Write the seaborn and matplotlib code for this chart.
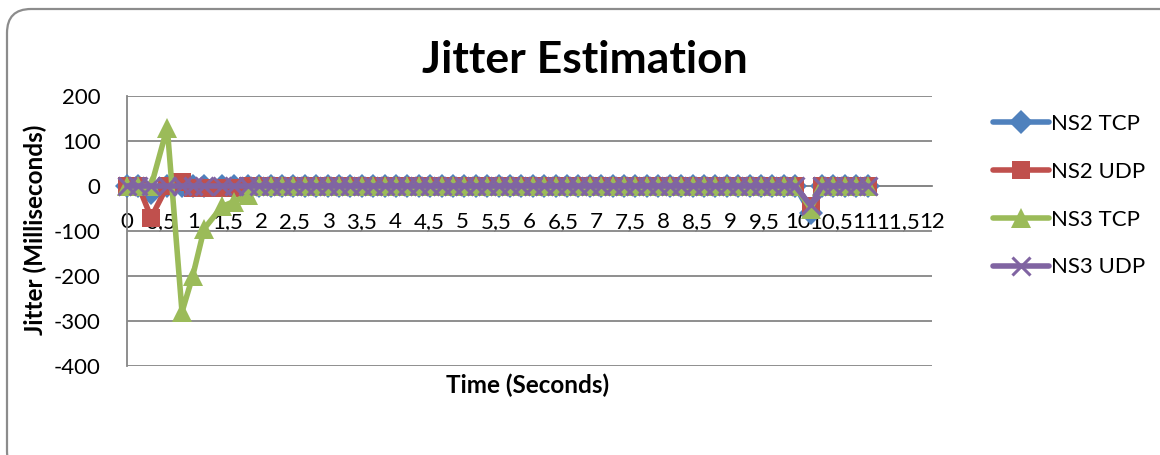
import numpy as np
import pandas as pd
import matplotlib
matplotlib.use("Agg")
import matplotlib.pyplot as plt
from matplotlib.patches import FancyBboxPatch
import seaborn as sns

# Sample times (seconds)
time_s = [0.00, 0.17, 0.36, 0.60, 0.82, 0.98, 1.15, 1.42, 1.59, 1.80,
          1.97, 2.14, 2.31, 2.48, 2.65, 2.82, 2.99, 3.16, 3.33, 3.50,
          3.67, 3.84, 4.01, 4.18, 4.35, 4.52, 4.69, 4.86, 5.03, 5.20,
          5.37, 5.54, 5.71, 5.88, 6.05, 6.22, 6.39, 6.56, 6.73, 6.90,
          7.07, 7.24, 7.41, 7.58, 7.75, 7.92, 8.09, 8.26, 8.43, 8.60,
          8.77, 8.94, 9.11, 9.28, 9.45, 9.62, 9.79, 9.96, 10.19, 10.36,
          10.53, 10.70, 10.87, 11.04]

# Jitter per series (milliseconds)
ns2_tcp = [0, 0, -15, 0, 0, 0, 0, 0, 0, 0,
           0, 0, 0, 0, 0, 0, 0, 0, 0, 0,
           0, 0, 0, 0, 0, 0, 0, 0, 0, 0,
           0, 0, 0, 0, 0, 0, 0, 0, 0, 0,
           0, 0, 0, 0, 0, 0, 0, 0, 0, 0,
           0, 0, 0, 0, 0, 0, 0, 0, -60, 0,
           0, 0, 0, 0]
ns2_udp = [0, 0, -70, 0, 8, -5, -5, -5, -5, 0,
           0, 0, 0, 0, 0, 0, 0, 0, 0, 0,
           0, 0, 0, 0, 0, 0, 0, 0, 0, 0,
           0, 0, 0, 0, 0, 0, 0, 0, 0, 0,
           0, 0, 0, 0, 0, 0, 0, 0, 0, 0,
           0, 0, 0, 0, 0, 0, 0, 0, -45, 0,
           0, 0, 0, 0]
ns3_tcp = [0, 0, 0, 130, -280, -200, -95, -45, -35, -20,
           0, 0, 0, 0, 0, 0, 0, 0, 0, 0,
           0, 0, 0, 0, 0, 0, 0, 0, 0, 0,
           0, 0, 0, 0, 0, 0, 0, 0, 0, 0,
           0, 0, 0, 0, 0, 0, 0, 0, 0, 0,
           0, 0, 0, 0, 0, 0, 0, 0, -50, 0,
           0, 0, 0, 0]
ns3_udp = [0, 0, 0, 0, 0, 0, 0, 0, 0, 0,
           0, 0, 0, 0, 0, 0, 0, 0, 0, 0,
           0, 0, 0, 0, 0, 0, 0, 0, 0, 0,
           0, 0, 0, 0, 0, 0, 0, 0, 0, 0,
           0, 0, 0, 0, 0, 0, 0, 0, 0, 0,
           0, 0, 0, 0, 0, 0, 0, 0, -43, 0,
           0, 0, 0, 0]

series_names = ["NS2 TCP", "NS2 UDP", "NS3 TCP", "NS3 UDP"]
x_ticks = [0, 0.5, 1, 1.5, 2, 2.5, 3, 3.5, 4, 4.5, 5, 5.5, 6, 6.5, 7, 7.5,
           8, 8.5, 9, 9.5, 10, 10.5, 11, 11.5, 12]
x_tick_labels = ["0", "0,5", "1", "1,5", "2", "2,5", "3", "3,5", "4", "4,5",
                 "5", "5,5", "6", "6,5", "7", "7,5", "8", "8,5", "9", "9,5",
                 "10", "10,5", "11", "11,5", "12"]
y_ticks = [-400, -300, -200, -100, 0, 100, 200]
y_tick_labels = ["-400", "-300", "-200", "-100", "0", "100", "200"]

sns.set_style("white")
plt.rcParams["font.family"] = ["Lato", "DejaVu Sans"]
plt.rcParams["text.color"] = "black"
plt.rcParams["xtick.labelcolor"] = "black"
plt.rcParams["ytick.labelcolor"] = "black"

W, H = 1160, 455
fig = plt.figure(figsize=(W / 100, H / 100), dpi=100)
ax = fig.add_axes([127 / W, 1 - 366 / H, (932 - 127) / W, (366 - 96) / H])

grid_col = "#868686"
colors = ["#4F81BD", "#C0504D", "#9BBB59", "#8064A2"]
markers = ["D", "s", "^", "x"]
msizes = [12, 13, 15, 13]
all_values = [ns2_tcp, ns2_udp, ns3_tcp, ns3_udp]

df = pd.DataFrame({"Time": time_s})
for name, vals in zip(series_names, all_values):
    df[name] = vals

for i, name in enumerate(series_names):
    kw = dict(marker=markers[i], markersize=msizes[i], color=colors[i],
              linewidth=4.0, estimator=None, sort=False, clip_on=False,
              zorder=3 + i, label=name)
    if markers[i] == "x":
        kw.update(markeredgewidth=2.2, markeredgecolor=colors[i])
    else:
        kw.update(markeredgewidth=0, markeredgecolor=colors[i])
    sns.lineplot(data=df, x="Time", y=name, ax=ax, **kw)

ax.set_xlim(0, 12)
ax.set_ylim(-400, 200)
ax.set_xticks(x_ticks)
ax.set_xticklabels(x_tick_labels)
ax.set_yticks(y_ticks)
ax.set_yticklabels(y_tick_labels)
ax.tick_params(axis="x", length=0, pad=19, labelsize=16, labelcolor="black")
ax.tick_params(axis="y", length=0, pad=19, labelsize=16, labelcolor="black")
ax.set_xlabel("")
ax.set_ylabel("")

ax.yaxis.grid(True, color=grid_col, linewidth=1.3, zorder=0)
ax.xaxis.grid(False)
ax.set_axisbelow(True)
for side in ["top", "right"]:
    ax.spines[side].set_visible(False)
ax.spines["left"].set_color(grid_col)
ax.spines["left"].set_linewidth(1.3)
ax.spines["bottom"].set_position(("data", 0))
ax.spines["bottom"].set_color(grid_col)
ax.spines["bottom"].set_linewidth(1.3)

fig.text(585 / W, 1 - 60 / H, "Jitter Estimation", ha="center", va="center",
         fontsize=32, fontweight="bold", color="black")
fig.text(35 / W, 1 - 230 / H, "Jitter (Milliseconds)", ha="center",
         va="center", rotation=90, fontsize=17.5, fontweight="bold",
         color="black")
fig.text(528 / W, 1 - 385 / H, "Time (Seconds)", ha="center", va="center",
         fontsize=17.5, fontweight="bold", color="black")

handles, labels = ax.get_legend_handles_labels()
if ax.get_legend() is not None:
    ax.get_legend().remove()
fig.legend(handles, labels, loc="upper left",
           bbox_to_anchor=(982 / W, 1 - 103 / H),
           bbox_transform=fig.transFigure, frameon=False, borderpad=0,
           handlelength=2.5, handletextpad=0.1, labelspacing=1.25,
           fontsize=16, labelcolor="black")

# Rounded chart frame
frame = FancyBboxPatch((7, -20), W + 20, H - 9 + 20,
                       boxstyle="round,pad=0,rounding_size=24",
                       transform=None, facecolor="none",
                       edgecolor="#8c8c8c", linewidth=1.6, zorder=0)
fig.patches.append(frame)

fig.savefig("out.png", dpi=100)
